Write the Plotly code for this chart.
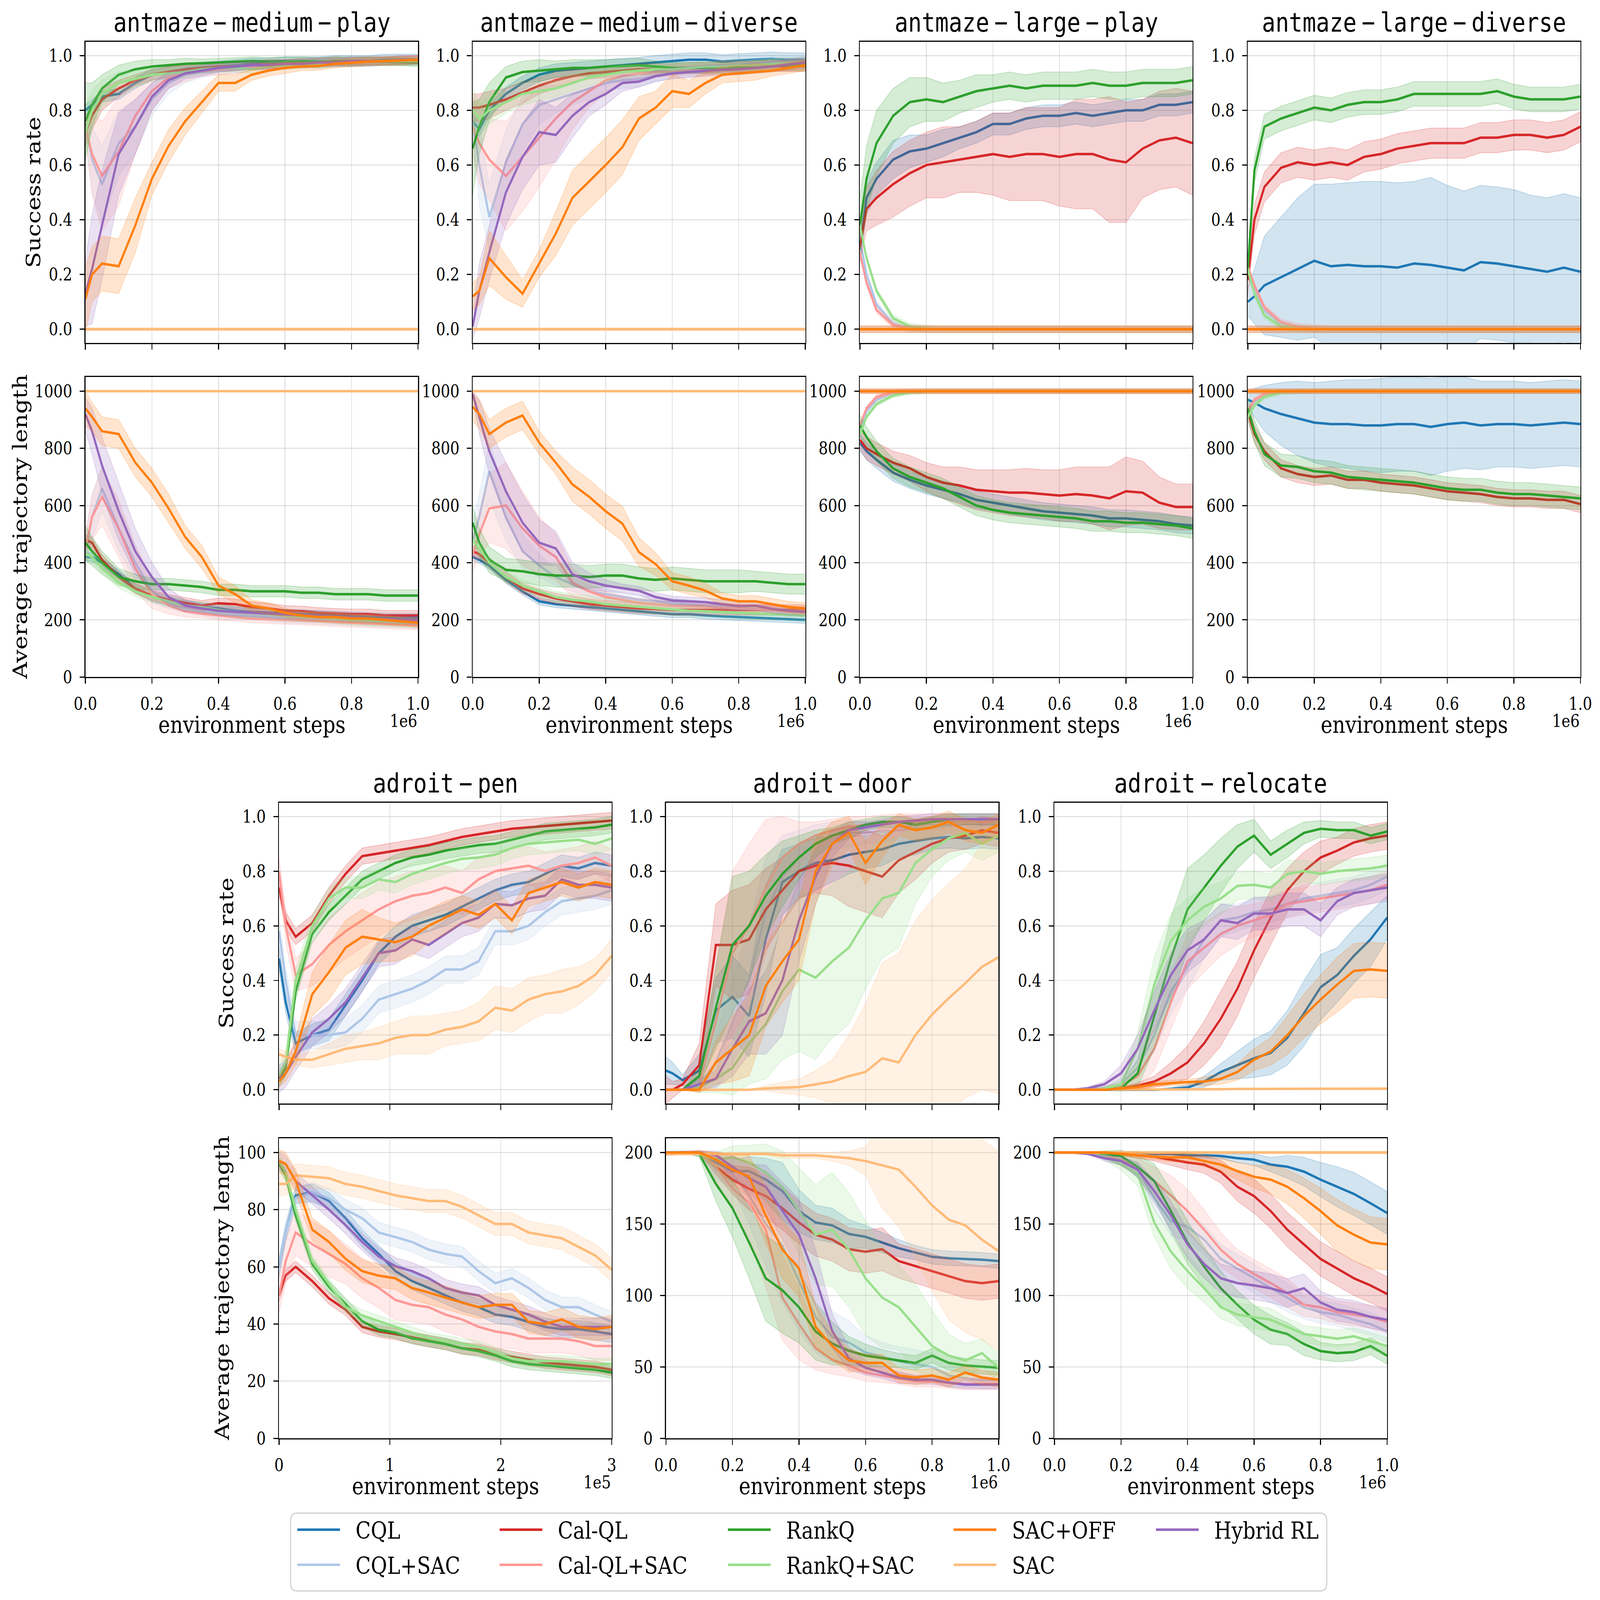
"""Offline-to-online RL: success rate and average trajectory length on antmaze / adroit.

Writes out.html with a 4x2 grid (antmaze) above a 3x2 grid (adroit) and a shared legend.
"""

import plotly.graph_objects as go

W, H = 4983, 4237

METHODS = ["CQL", "CQL+SAC", "Cal-QL", "Cal-QL+SAC", "RankQ", "RankQ+SAC",
           "Hybrid RL", "SAC", "SAC+OFF"]
COLORS = {
    "CQL": "#1f77b4", "CQL+SAC": "#aec7e8", "Cal-QL": "#d62728",
    "Cal-QL+SAC": "#ff9896", "RankQ": "#2ca02c", "RankQ+SAC": "#98df8a",
    "SAC+OFF": "#ff7f0e", "SAC": "#ffbb78", "Hybrid RL": "#9467bd",
}
LEGEND_COLS = [["CQL", "CQL+SAC"], ["Cal-QL", "Cal-QL+SAC"], ["RankQ", "RankQ+SAC"],
               ["SAC+OFF", "SAC"], ["Hybrid RL"]]

# fraction of the run (x 1e6 steps for antmaze/door/relocate, x 3e5 for pen)
FRAC = [0, 0.02, 0.05, 0.1, 0.15, 0.2, 0.25, 0.3, 0.35, 0.4, 0.45,
        0.5, 0.55, 0.6, 0.65, 0.7, 0.75, 0.8, 0.85, 0.9, 0.95, 1.0]

ZERO = [0, 0, 0, 0, 0, 0, 0, 0, 0, 0, 0,
        0, 0, 0, 0, 0, 0, 0, 0, 0, 0, 0]
K1000 = [1000, 1000, 1000, 1000, 1000, 1000, 1000, 1000, 1000, 1000, 1000,
         1000, 1000, 1000, 1000, 1000, 1000, 1000, 1000, 1000, 1000, 1000]
K200 = [200, 200, 200, 200, 200, 200, 200, 200, 200, 200, 200,
        200, 200, 200, 200, 200, 200, 200, 200, 200, 200, 200]

# ---------------- antmaze-medium-play ----------------
AMP_SR = {
    "CQL": [0.80, 0.82, 0.85, 0.86, 0.90, 0.93, 0.94, 0.95, 0.955, 0.96, 0.965,
            0.97, 0.97, 0.975, 0.975, 0.975, 0.98, 0.98, 0.98, 0.985, 0.985, 0.985],
    "CQL+SAC": [0.75, 0.62, 0.53, 0.68, 0.74, 0.84, 0.90, 0.93, 0.94, 0.95, 0.955,
                0.96, 0.965, 0.965, 0.97, 0.97, 0.975, 0.975, 0.98, 0.98, 0.98, 0.985],
    "Cal-QL": [0.72, 0.78, 0.84, 0.88, 0.91, 0.93, 0.94, 0.95, 0.955, 0.96, 0.96,
               0.965, 0.97, 0.97, 0.975, 0.975, 0.98, 0.975, 0.98, 0.98, 0.98, 0.985],
    "Cal-QL+SAC": [0.74, 0.64, 0.56, 0.65, 0.78, 0.87, 0.92, 0.935, 0.945, 0.95, 0.955,
                   0.96, 0.965, 0.97, 0.97, 0.975, 0.975, 0.98, 0.98, 0.98, 0.985, 0.985],
    "RankQ": [0.76, 0.82, 0.88, 0.93, 0.95, 0.96, 0.965, 0.97, 0.972, 0.975, 0.978,
              0.98, 0.978, 0.98, 0.98, 0.978, 0.98, 0.98, 0.98, 0.978, 0.978, 0.975],
    "RankQ+SAC": [0.72, 0.80, 0.86, 0.90, 0.915, 0.93, 0.935, 0.94, 0.95, 0.955, 0.955,
                  0.95, 0.96, 0.965, 0.97, 0.97, 0.975, 0.975, 0.98, 0.98, 0.98, 0.98],
    "Hybrid RL": [0.13, 0.22, 0.38, 0.64, 0.74, 0.85, 0.91, 0.935, 0.945, 0.955, 0.96,
                  0.965, 0.965, 0.97, 0.97, 0.975, 0.975, 0.98, 0.98, 0.98, 0.985, 0.985],
    "SAC": ZERO,
    "SAC+OFF": [0.11, 0.20, 0.24, 0.23, 0.38, 0.55, 0.67, 0.76, 0.83, 0.90, 0.90,
                0.93, 0.945, 0.955, 0.96, 0.962, 0.97, 0.975, 0.978, 0.98, 0.982, 0.985],
}
AMP_SR_SD = {
    "CQL": 0.02,
    "CQL+SAC": [0.04, 0.12, 0.14, 0.12, 0.10, 0.06, 0.04, 0.03, 0.02, 0.02, 0.02,
                0.015, 0.015, 0.015, 0.015, 0.015, 0.015, 0.015, 0.015, 0.015, 0.015, 0.015],
    "Cal-QL": [0.05, 0.05, 0.04, 0.03, 0.02, 0.02, 0.02, 0.015, 0.015, 0.015, 0.015,
               0.015, 0.015, 0.015, 0.015, 0.015, 0.015, 0.015, 0.015, 0.015, 0.015, 0.015],
    "Cal-QL+SAC": [0.05, 0.15, 0.20, 0.20, 0.14, 0.07, 0.04, 0.03, 0.02, 0.02, 0.02,
                   0.015, 0.015, 0.015, 0.015, 0.015, 0.015, 0.015, 0.015, 0.015, 0.015, 0.015],
    "RankQ": [0.14, 0.08, 0.05, 0.035, 0.03, 0.025, 0.02, 0.02, 0.015, 0.015, 0.015,
              0.015, 0.015, 0.015, 0.015, 0.015, 0.015, 0.015, 0.015, 0.015, 0.015, 0.015],
    "RankQ+SAC": [0.10, 0.07, 0.05, 0.04, 0.03, 0.025, 0.02, 0.02, 0.015, 0.015, 0.015,
                  0.015, 0.015, 0.015, 0.015, 0.015, 0.015, 0.015, 0.015, 0.015, 0.015, 0.015],
    "Hybrid RL": [0.12, 0.20, 0.20, 0.15, 0.10, 0.05, 0.03, 0.02, 0.02, 0.015, 0.015,
                  0.015, 0.015, 0.015, 0.015, 0.015, 0.015, 0.015, 0.015, 0.015, 0.015, 0.015],
    "SAC": 0.005,
    "SAC+OFF": [0.12, 0.10, 0.10, 0.10, 0.10, 0.06, 0.06, 0.05, 0.04, 0.03, 0.03,
                0.02, 0.02, 0.02, 0.015, 0.015, 0.015, 0.015, 0.015, 0.015, 0.015, 0.015],
}
AMP_LEN = {
    "CQL": [420, 420, 400, 360, 310, 280, 265, 255, 245, 240, 232,
            228, 225, 222, 220, 218, 215, 212, 210, 208, 207, 207],
    "CQL+SAC": [430, 560, 660, 520, 400, 300, 260, 240, 230, 220, 218,
                215, 210, 205, 203, 200, 198, 195, 193, 190, 188, 185],
    "Cal-QL": [480, 470, 410, 350, 310, 285, 270, 260, 250, 258, 255,
               245, 240, 232, 230, 225, 222, 220, 220, 215, 215, 215],
    "Cal-QL+SAC": [450, 560, 630, 520, 380, 290, 250, 230, 222, 215, 210,
                   205, 203, 200, 198, 195, 192, 190, 188, 185, 182, 180],
    "RankQ": [470, 440, 400, 350, 335, 325, 325, 320, 315, 305, 305,
              300, 300, 300, 295, 295, 290, 290, 290, 285, 285, 285],
    "RankQ+SAC": [430, 420, 380, 330, 300, 280, 265, 250, 245, 235, 228,
                  225, 220, 215, 212, 210, 205, 200, 198, 195, 192, 190],
    "Hybrid RL": [920, 860, 740, 580, 440, 350, 280, 250, 240, 232, 228,
                  225, 222, 218, 215, 212, 210, 207, 205, 202, 200, 198],
    "SAC": K1000,
    "SAC+OFF": [940, 910, 860, 850, 750, 680, 590, 490, 420, 320, 290,
                250, 240, 225, 215, 210, 210, 205, 205, 200, 195, 190],
}
AMP_LEN_SD = {
    "CQL": 15,
    "CQL+SAC": [50, 80, 80, 80, 60, 40, 20, 15, 15, 15, 15,
                15, 15, 15, 15, 15, 15, 15, 15, 15, 15, 15],
    "Cal-QL": 18,
    "Cal-QL+SAC": [50, 80, 100, 100, 80, 50, 30, 20, 15, 15, 15,
                   15, 15, 15, 15, 15, 15, 15, 15, 15, 15, 15],
    "RankQ": [60, 50, 40, 30, 25, 20, 20, 20, 20, 20, 20,
              20, 20, 20, 20, 20, 20, 20, 20, 20, 20, 20],
    "RankQ+SAC": 18,
    "Hybrid RL": [60, 80, 100, 100, 80, 50, 30, 20, 15, 15, 15,
                  15, 15, 15, 15, 15, 15, 15, 15, 15, 15, 15],
    "SAC": 3,
    "SAC+OFF": [60, 50, 50, 50, 50, 50, 50, 40, 40, 30, 30,
                20, 20, 15, 15, 15, 15, 15, 15, 15, 15, 15],
}

# ---------------- antmaze-medium-diverse ----------------
AMD_SR = {
    "CQL": [0.76, 0.73, 0.80, 0.86, 0.90, 0.93, 0.945, 0.95, 0.955, 0.96, 0.965,
            0.968, 0.975, 0.98, 0.985, 0.985, 0.978, 0.982, 0.985, 0.988, 0.985, 0.985],
    "CQL+SAC": [0.76, 0.60, 0.41, 0.61, 0.75, 0.82, 0.84, 0.86, 0.88, 0.90, 0.91,
                0.915, 0.925, 0.935, 0.94, 0.945, 0.955, 0.965, 0.97, 0.975, 0.978, 0.98],
    "Cal-QL": [0.81, 0.81, 0.82, 0.84, 0.865, 0.89, 0.91, 0.925, 0.935, 0.94, 0.945,
               0.95, 0.95, 0.95, 0.955, 0.955, 0.96, 0.96, 0.96, 0.962, 0.962, 0.962],
    "Cal-QL+SAC": [0.74, 0.68, 0.62, 0.56, 0.63, 0.70, 0.77, 0.83, 0.87, 0.91, 0.925,
                   0.935, 0.94, 0.945, 0.948, 0.95, 0.952, 0.955, 0.96, 0.965, 0.968, 0.97],
    "RankQ": [0.66, 0.74, 0.83, 0.92, 0.94, 0.945, 0.95, 0.955, 0.955, 0.96, 0.962,
              0.965, 0.96, 0.955, 0.955, 0.955, 0.955, 0.955, 0.96, 0.965, 0.965, 0.965],
    "RankQ+SAC": [0.80, 0.77, 0.80, 0.83, 0.86, 0.87, 0.88, 0.90, 0.92, 0.93, 0.94,
                  0.945, 0.95, 0.95, 0.955, 0.96, 0.96, 0.965, 0.965, 0.97, 0.972, 0.975],
    "Hybrid RL": [0.01, 0.14, 0.28, 0.50, 0.63, 0.72, 0.71, 0.78, 0.83, 0.86, 0.90,
                  0.905, 0.925, 0.935, 0.94, 0.945, 0.948, 0.95, 0.955, 0.96, 0.968, 0.975],
    "SAC": ZERO,
    "SAC+OFF": [0.12, 0.14, 0.26, 0.19, 0.13, 0.24, 0.35, 0.48, 0.54, 0.60, 0.665,
                0.77, 0.81, 0.87, 0.86, 0.90, 0.93, 0.935, 0.94, 0.945, 0.955, 0.965],
}
AMD_SR_SD = {
    "CQL": 0.025,
    "CQL+SAC": [0.05, 0.15, 0.12, 0.12, 0.10, 0.07, 0.05, 0.04, 0.04, 0.03, 0.03,
                0.03, 0.02, 0.02, 0.02, 0.02, 0.015, 0.015, 0.015, 0.015, 0.015, 0.015],
    "Cal-QL": [0.05, 0.05, 0.05, 0.04, 0.04, 0.03, 0.03, 0.025, 0.02, 0.02, 0.02,
               0.02, 0.02, 0.02, 0.02, 0.02, 0.02, 0.02, 0.02, 0.02, 0.02, 0.02],
    "Cal-QL+SAC": [0.10, 0.15, 0.15, 0.20, 0.20, 0.18, 0.15, 0.10, 0.06, 0.04, 0.03,
                   0.03, 0.02, 0.02, 0.02, 0.02, 0.02, 0.02, 0.02, 0.02, 0.02, 0.02],
    "RankQ": [0.17, 0.10, 0.07, 0.04, 0.04, 0.04, 0.03, 0.03, 0.03, 0.025, 0.025,
              0.025, 0.02, 0.02, 0.02, 0.02, 0.02, 0.02, 0.02, 0.02, 0.02, 0.02],
    "RankQ+SAC": [0.08, 0.06, 0.05, 0.04, 0.04, 0.035, 0.03, 0.03, 0.03, 0.025, 0.025,
                  0.02, 0.02, 0.02, 0.02, 0.02, 0.02, 0.02, 0.02, 0.02, 0.02, 0.02],
    "Hybrid RL": [0.05, 0.10, 0.10, 0.12, 0.12, 0.12, 0.10, 0.08, 0.05, 0.04, 0.03,
                  0.02, 0.02, 0.02, 0.02, 0.02, 0.02, 0.02, 0.02, 0.02, 0.02, 0.02],
    "SAC": 0.005,
    "SAC+OFF": [0.05, 0.05, 0.10, 0.08, 0.05, 0.05, 0.08, 0.10, 0.10, 0.10, 0.10,
                0.08, 0.06, 0.06, 0.05, 0.04, 0.03, 0.03, 0.03, 0.02, 0.02, 0.02],
}
AMD_LEN = {
    "CQL": [420, 410, 390, 340, 300, 265, 255, 250, 245, 240, 235,
            230, 225, 220, 220, 215, 212, 210, 207, 205, 202, 200],
    "CQL+SAC": [480, 560, 720, 560, 440, 390, 350, 325, 300, 290, 280,
                270, 265, 260, 255, 250, 245, 240, 238, 235, 232, 230],
    "Cal-QL": [440, 430, 400, 350, 310, 290, 275, 265, 255, 250, 245,
               240, 238, 235, 235, 235, 235, 235, 235, 235, 235, 235],
    "Cal-QL+SAC": [430, 500, 590, 600, 520, 460, 420, 330, 300, 280, 270,
                   260, 255, 250, 248, 245, 243, 240, 238, 235, 232, 230],
    "RankQ": [540, 470, 410, 375, 370, 360, 355, 355, 350, 355, 355,
              345, 340, 345, 340, 335, 335, 335, 335, 330, 325, 325],
    "RankQ+SAC": [480, 450, 400, 350, 320, 300, 280, 270, 265, 255, 250,
                  245, 240, 235, 232, 230, 228, 225, 222, 220, 218, 215],
    "Hybrid RL": [990, 910, 790, 650, 540, 470, 450, 360, 335, 320, 310,
                  302, 280, 268, 265, 262, 255, 248, 250, 238, 232, 228],
    "SAC": K1000,
    "SAC+OFF": [945, 920, 850, 890, 915, 820, 750, 674, 631, 580, 537,
                437, 395, 335, 320, 302, 275, 265, 265, 255, 245, 240],
}
AMD_LEN_SD = {
    "CQL": 12,
    "CQL+SAC": [60, 80, 100, 80, 60, 40, 30, 25, 20, 20, 15,
                15, 15, 15, 15, 15, 15, 15, 15, 15, 15, 15],
    "Cal-QL": 18,
    "Cal-QL+SAC": [60, 80, 120, 150, 130, 100, 80, 50, 30, 20, 15,
                   15, 15, 15, 15, 15, 15, 15, 15, 15, 15, 15],
    "RankQ": [60, 50, 45, 40, 40, 40, 40, 40, 40, 40, 40,
              40, 40, 40, 40, 40, 40, 40, 35, 35, 35, 35],
    "RankQ+SAC": 20,
    "Hybrid RL": [10, 60, 80, 100, 100, 80, 60, 40, 30, 20, 15,
                  15, 15, 15, 15, 15, 15, 15, 15, 15, 15, 15],
    "SAC": 3,
    "SAC+OFF": [50, 50, 50, 50, 50, 40, 40, 60, 60, 60, 60,
                50, 40, 30, 30, 25, 20, 20, 20, 20, 20, 20],
}

# ---------------- antmaze-large-play ----------------
ALP_SR = {
    "CQL": [0.29, 0.48, 0.55, 0.62, 0.65, 0.66, 0.68, 0.70, 0.72, 0.75, 0.75,
            0.77, 0.78, 0.78, 0.79, 0.78, 0.79, 0.80, 0.80, 0.82, 0.82, 0.83],
    "CQL+SAC": [0.33, 0.20, 0.09, 0.02, 0.005, 0.001, 0, 0, 0, 0, 0,
                0, 0, 0, 0, 0, 0, 0, 0, 0, 0, 0],
    "Cal-QL": [0.30, 0.44, 0.48, 0.53, 0.57, 0.60, 0.61, 0.62, 0.63, 0.64, 0.63,
               0.64, 0.64, 0.63, 0.64, 0.64, 0.62, 0.61, 0.66, 0.69, 0.70, 0.68],
    "Cal-QL+SAC": [0.28, 0.17, 0.07, 0.015, 0.003, 0, 0, 0, 0, 0, 0,
                   0, 0, 0, 0, 0, 0, 0, 0, 0, 0, 0],
    "RankQ": [0.38, 0.55, 0.68, 0.78, 0.83, 0.84, 0.83, 0.85, 0.87, 0.88, 0.89,
              0.88, 0.89, 0.89, 0.89, 0.90, 0.89, 0.89, 0.90, 0.90, 0.90, 0.91],
    "RankQ+SAC": [0.38, 0.26, 0.14, 0.04, 0.01, 0.003, 0, 0, 0, 0, 0,
                  0, 0, 0, 0, 0, 0, 0, 0, 0, 0, 0],
    "Hybrid RL": ZERO,
    "SAC": ZERO,
    "SAC+OFF": ZERO,
}
ALP_SR_SD = {
    "CQL": [0.05, 0.06, 0.06, 0.07, 0.06, 0.05, 0.05, 0.04, 0.04, 0.04, 0.04,
            0.04, 0.04, 0.04, 0.04, 0.04, 0.04, 0.04, 0.04, 0.04, 0.04, 0.04],
    "Cal-QL": [0.05, 0.08, 0.10, 0.12, 0.12, 0.12, 0.13, 0.12, 0.13, 0.15, 0.16,
               0.17, 0.17, 0.18, 0.20, 0.20, 0.23, 0.22, 0.18, 0.18, 0.18, 0.19],
    "RankQ": [0.10, 0.12, 0.12, 0.10, 0.09, 0.08, 0.07, 0.06, 0.06, 0.05, 0.05,
              0.05, 0.05, 0.05, 0.05, 0.05, 0.05, 0.05, 0.05, 0.05, 0.05, 0.05],
}
ALP_LEN = {
    "CQL": [820, 790, 760, 715, 690, 670, 655, 640, 620, 610, 600,
            590, 580, 575, 570, 565, 555, 555, 550, 545, 535, 530],
    "CQL+SAC": [860, 930, 970, 995, 999, 1000, 1000, 1000, 1000, 1000, 1000,
                1000, 1000, 1000, 1000, 1000, 1000, 1000, 1000, 1000, 1000, 1000],
    "Cal-QL": [830, 800, 780, 750, 730, 700, 680, 670, 655, 650, 645,
               645, 640, 635, 640, 635, 625, 650, 645, 610, 595, 595],
    "Cal-QL+SAC": [880, 940, 980, 997, 1000, 1000, 1000, 1000, 1000, 1000, 1000,
                   1000, 1000, 1000, 1000, 1000, 1000, 1000, 1000, 1000, 1000, 1000],
    "RankQ": [880, 840, 790, 730, 700, 680, 660, 630, 600, 585, 575,
              570, 565, 560, 555, 545, 545, 540, 540, 535, 530, 520],
    "RankQ+SAC": [850, 910, 955, 985, 995, 999, 1000, 1000, 1000, 1000, 1000,
                  1000, 1000, 1000, 1000, 1000, 1000, 1000, 1000, 1000, 1000, 1000],
    "Hybrid RL": K1000,
    "SAC": K1000,
    "SAC+OFF": K1000,
}
ALP_LEN_SD = {
    "CQL": 30,
    "Cal-QL": [30, 40, 40, 40, 45, 50, 55, 65, 70, 75, 80,
               85, 85, 90, 95, 100, 110, 120, 110, 90, 80, 80],
    "RankQ": 35,
}

# ---------------- antmaze-large-diverse ----------------
ALD_SR = {
    "CQL": [0.10, 0.12, 0.16, 0.19, 0.22, 0.25, 0.23, 0.235, 0.23, 0.23, 0.225,
            0.24, 0.235, 0.225, 0.215, 0.245, 0.24, 0.23, 0.22, 0.21, 0.225, 0.21],
    "CQL+SAC": [0.20, 0.14, 0.07, 0.02, 0.005, 0, 0, 0, 0, 0, 0,
                0, 0, 0, 0, 0, 0, 0, 0, 0, 0, 0],
    "Cal-QL": [0.18, 0.40, 0.52, 0.59, 0.61, 0.60, 0.61, 0.60, 0.63, 0.64, 0.66,
               0.67, 0.68, 0.68, 0.68, 0.70, 0.70, 0.71, 0.71, 0.70, 0.71, 0.74],
    "Cal-QL+SAC": [0.23, 0.16, 0.08, 0.025, 0.01, 0.003, 0, 0, 0, 0, 0,
                   0, 0, 0, 0, 0, 0, 0, 0, 0, 0, 0],
    "RankQ": [0.22, 0.58, 0.74, 0.77, 0.79, 0.81, 0.80, 0.82, 0.83, 0.83, 0.84,
              0.86, 0.86, 0.86, 0.86, 0.86, 0.87, 0.85, 0.84, 0.84, 0.84, 0.85],
    "RankQ+SAC": [0.22, 0.13, 0.05, 0.01, 0.002, 0, 0, 0, 0, 0, 0,
                  0, 0, 0, 0, 0, 0, 0, 0, 0, 0, 0],
    "Hybrid RL": ZERO,
    "SAC": ZERO,
    "SAC+OFF": ZERO,
}
ALD_SR_SD = {
    "CQL": [0.05, 0.10, 0.18, 0.22, 0.26, 0.28, 0.30, 0.30, 0.31, 0.31, 0.31,
            0.30, 0.32, 0.30, 0.29, 0.28, 0.28, 0.28, 0.27, 0.27, 0.27, 0.27],
    "Cal-QL": 0.055,
    "RankQ": 0.045,
}
ALD_LEN = {
    "CQL": [970, 960, 940, 920, 905, 890, 885, 885, 880, 880, 885,
            885, 875, 885, 890, 880, 885, 885, 880, 885, 890, 885],
    "CQL+SAC": [920, 960, 985, 998, 1000, 1000, 1000, 1000, 1000, 1000, 1000,
                1000, 1000, 1000, 1000, 1000, 1000, 1000, 1000, 1000, 1000, 1000],
    "Cal-QL": [930, 850, 790, 730, 710, 700, 705, 690, 690, 680, 675,
               670, 660, 650, 645, 640, 630, 625, 625, 620, 620, 605],
    "Cal-QL+SAC": [930, 970, 990, 999, 1000, 1000, 1000, 1000, 1000, 1000, 1000,
                   1000, 1000, 1000, 1000, 1000, 1000, 1000, 1000, 1000, 1000, 1000],
    "RankQ": [940, 860, 780, 740, 735, 720, 715, 700, 695, 690, 685,
              680, 670, 660, 655, 655, 645, 640, 640, 635, 630, 625],
    "RankQ+SAC": [910, 950, 980, 995, 999, 1000, 1000, 1000, 1000, 1000, 1000,
                  1000, 1000, 1000, 1000, 1000, 1000, 1000, 1000, 1000, 1000, 1000],
    "Hybrid RL": K1000,
    "SAC": K1000,
    "SAC+OFF": K1000,
}
ALD_LEN_SD = {
    "CQL": [30, 50, 80, 110, 130, 140, 150, 155, 160, 165, 165,
            165, 170, 165, 160, 155, 150, 150, 150, 150, 150, 150],
    "Cal-QL": 30,
    "RankQ": 40,
}

# ---------------- adroit-pen (x in units of 1e5, run is 3e5) ----------------
PEN_SR = {
    "CQL": [0.48, 0.32, 0.17, 0.20, 0.22, 0.31, 0.40, 0.50, 0.56, 0.60, 0.62,
            0.64, 0.67, 0.70, 0.73, 0.75, 0.76, 0.79, 0.82, 0.81, 0.83, 0.82],
    "CQL+SAC": [0.58, 0.40, 0.20, 0.20, 0.20, 0.21, 0.26, 0.33, 0.35, 0.37, 0.40,
                0.44, 0.44, 0.47, 0.58, 0.58, 0.60, 0.65, 0.69, 0.70, 0.71, 0.73],
    "Cal-QL": [0.74, 0.62, 0.56, 0.61, 0.71, 0.79, 0.855, 0.865, 0.875, 0.885, 0.895,
               0.91, 0.925, 0.935, 0.945, 0.955, 0.96, 0.965, 0.97, 0.975, 0.98, 0.985],
    "Cal-QL+SAC": [0.80, 0.60, 0.42, 0.46, 0.53, 0.58, 0.62, 0.66, 0.69, 0.71, 0.72,
                   0.74, 0.72, 0.77, 0.80, 0.81, 0.82, 0.80, 0.82, 0.83, 0.85, 0.82],
    "RankQ": [0.04, 0.08, 0.36, 0.57, 0.65, 0.71, 0.77, 0.80, 0.83, 0.85, 0.86,
              0.875, 0.885, 0.895, 0.90, 0.915, 0.93, 0.945, 0.95, 0.955, 0.96, 0.97],
    "RankQ+SAC": [0.05, 0.10, 0.40, 0.60, 0.70, 0.74, 0.74, 0.77, 0.76, 0.79, 0.81,
                  0.83, 0.845, 0.85, 0.86, 0.885, 0.90, 0.905, 0.91, 0.915, 0.90, 0.92],
    "Hybrid RL": [0.04, 0.06, 0.12, 0.21, 0.26, 0.32, 0.41, 0.50, 0.51, 0.55, 0.53,
                  0.57, 0.61, 0.63, 0.68, 0.675, 0.70, 0.71, 0.77, 0.75, 0.75, 0.74],
    "SAC": [0.13, 0.12, 0.11, 0.11, 0.13, 0.15, 0.16, 0.17, 0.19, 0.20, 0.20,
            0.22, 0.23, 0.25, 0.30, 0.29, 0.33, 0.35, 0.36, 0.38, 0.42, 0.49],
    "SAC+OFF": [0.03, 0.06, 0.14, 0.35, 0.43, 0.52, 0.56, 0.55, 0.54, 0.56, 0.60,
                0.63, 0.66, 0.64, 0.68, 0.62, 0.72, 0.74, 0.76, 0.74, 0.76, 0.75],
}
PEN_SR_SD = {
    "CQL": 0.04, "CQL+SAC": 0.05, "Cal-QL": 0.03, "RankQ": 0.03,
    "RankQ+SAC": 0.04, "Hybrid RL": 0.05,
    "Cal-QL+SAC": [0.05, 0.06, 0.06, 0.08, 0.10, 0.10, 0.10, 0.10, 0.09, 0.09, 0.08,
                   0.08, 0.08, 0.08, 0.07, 0.07, 0.07, 0.07, 0.06, 0.06, 0.06, 0.06],
    "SAC": [0.02, 0.02, 0.02, 0.03, 0.04, 0.05, 0.05, 0.06, 0.06, 0.07, 0.07,
            0.06, 0.06, 0.07, 0.08, 0.08, 0.08, 0.07, 0.08, 0.07, 0.06, 0.06],
    "SAC+OFF": [0.02, 0.03, 0.05, 0.08, 0.10, 0.10, 0.10, 0.08, 0.07, 0.07, 0.06,
                0.06, 0.05, 0.05, 0.05, 0.05, 0.05, 0.05, 0.05, 0.05, 0.05, 0.05],
}
PEN_LEN = {
    "CQL": [60, 72, 85, 86, 83, 77, 70, 64.5, 58.5, 55, 52.6,
            50, 47.5, 45.9, 43.3, 42.5, 40.8, 39, 38.2, 38.2, 37.4, 36.5],
    "CQL+SAC": [60, 72, 84, 86, 84, 80, 77, 72, 70.4, 68.7, 66,
                64.5, 63.6, 58.5, 54.3, 56, 52.6, 48.4, 45.9, 45.9, 43.3, 40.8],
    "Cal-QL": [50, 57, 60, 55, 49, 45, 39, 37.4, 36.5, 35.3, 34,
               33, 31.5, 31, 29.5, 28.5, 27.5, 26.5, 26, 25.5, 25, 24],
    "Cal-QL+SAC": [50, 62, 72, 67.9, 64.5, 61, 56, 52.6, 48.4, 46.7, 45.9,
                   43.3, 41.6, 39, 37.4, 36.5, 34.9, 34.9, 34.9, 34, 32.3, 32.3],
    "RankQ": [96, 92, 78, 61, 53, 47, 41, 38, 37, 35, 34,
              33, 31.5, 30.5, 29, 27, 26, 25.5, 25, 24.5, 24, 23],
    "RankQ+SAC": [97, 93, 80, 62, 54, 46, 43, 41, 39, 37, 35,
                  34, 33, 32, 30, 28, 27, 27, 27, 26.5, 26, 26],
    "Hybrid RL": [97, 96, 90, 85, 80, 74.6, 68.7, 63.6, 60.2, 58.5, 56,
                  52.6, 51, 50, 46.7, 45, 43.3, 40.8, 39, 39, 39, 39],
    "SAC": [89, 89, 92, 91.5, 91, 89, 88, 86.5, 85, 84, 83,
            83, 81, 78, 75, 75, 72, 71, 70, 67, 64, 59],
    "SAC+OFF": [97, 96, 90, 73, 68.7, 62.8, 58.5, 56.9, 56, 52.6, 51,
                49.2, 47.5, 45.9, 46.7, 46.7, 40.8, 40, 41.6, 39, 38.2, 39],
}
PEN_LEN_SD = {
    "CQL": 3, "CQL+SAC": 3.5, "Cal-QL": 2, "RankQ": 2, "RankQ+SAC": 2,
    "Hybrid RL": 3, "SAC": 4, "SAC+OFF": 4,
    "Cal-QL+SAC": [6, 8, 8, 8, 8, 7, 7, 7, 7, 6, 6,
                   6, 6, 6, 6, 5, 5, 5, 5, 5, 5, 5],
}

# ---------------- adroit-door ----------------
DOOR_SR = {
    "CQL": [0.07, 0.06, 0.035, 0.07, 0.29, 0.34, 0.27, 0.55, 0.76, 0.80, 0.83,
            0.84, 0.86, 0.87, 0.88, 0.90, 0.91, 0.92, 0.925, 0.92, 0.925, 0.92],
    "CQL+SAC": [0, 0, 0, 0.02, 0.10, 0.25, 0.40, 0.65, 0.78, 0.85, 0.90,
                0.93, 0.94, 0.94, 0.945, 0.95, 0.955, 0.96, 0.965, 0.97, 0.97, 0.97],
    "Cal-QL": [0, 0, 0.02, 0.09, 0.53, 0.53, 0.55, 0.66, 0.73, 0.80, 0.82,
               0.83, 0.82, 0.80, 0.78, 0.84, 0.87, 0.90, 0.92, 0.93, 0.95, 0.94],
    "Cal-QL+SAC": [0, 0, 0, 0.02, 0.25, 0.50, 0.60, 0.74, 0.85, 0.90, 0.93,
                   0.95, 0.96, 0.97, 0.975, 0.98, 0.98, 0.98, 0.98, 0.98, 0.98, 0.98],
    "RankQ": [0, 0, 0, 0.05, 0.30, 0.53, 0.60, 0.71, 0.79, 0.85, 0.90,
              0.93, 0.95, 0.97, 0.98, 0.98, 0.97, 0.98, 0.99, 0.99, 0.99, 0.99],
    "RankQ+SAC": [0, 0, 0, 0.01, 0.04, 0.08, 0.17, 0.24, 0.36, 0.44, 0.41,
                  0.47, 0.52, 0.62, 0.70, 0.72, 0.83, 0.88, 0.92, 0.94, 0.90, 0.93],
    "Hybrid RL": [0, 0, 0, 0.02, 0.04, 0.15, 0.25, 0.28, 0.40, 0.62, 0.78,
                  0.90, 0.95, 0.96, 0.97, 0.98, 0.985, 0.99, 0.99, 0.99, 0.99, 0.99],
    "SAC": [0, 0, 0, 0, 0, 0, 0, 0.005, 0.008, 0.01, 0.02,
            0.03, 0.05, 0.065, 0.115, 0.10, 0.20, 0.275, 0.335, 0.39, 0.45, 0.485],
    "SAC+OFF": [0, 0, 0, 0, 0.10, 0.15, 0.20, 0.38, 0.47, 0.55, 0.80,
                0.90, 0.94, 0.83, 0.91, 0.97, 0.95, 0.96, 0.98, 0.95, 0.94, 0.97],
}
DOOR_SR_SD = {
    "CQL": [0.05, 0.04, 0.02, 0.06, 0.12, 0.15, 0.15, 0.20, 0.12, 0.10, 0.10,
            0.08, 0.07, 0.06, 0.06, 0.05, 0.05, 0.04, 0.04, 0.04, 0.04, 0.04],
    "CQL+SAC": [0, 0, 0, 0.02, 0.10, 0.15, 0.20, 0.20, 0.15, 0.10, 0.07,
                0.05, 0.05, 0.04, 0.04, 0.04, 0.04, 0.04, 0.04, 0.04, 0.04, 0.04],
    "Cal-QL": [0.05, 0.03, 0.02, 0.08, 0.15, 0.20, 0.20, 0.15, 0.12, 0.10, 0.10,
               0.12, 0.15, 0.15, 0.15, 0.12, 0.10, 0.07, 0.05, 0.05, 0.05, 0.05],
    "Cal-QL+SAC": [0, 0, 0, 0.03, 0.20, 0.30, 0.30, 0.25, 0.15, 0.08, 0.05,
                   0.04, 0.04, 0.03, 0.03, 0.03, 0.03, 0.03, 0.03, 0.03, 0.03, 0.03],
    "RankQ": [0, 0, 0, 0.03, 0.15, 0.25, 0.20, 0.15, 0.12, 0.08, 0.05,
              0.03, 0.03, 0.02, 0.02, 0.02, 0.02, 0.02, 0.02, 0.02, 0.02, 0.02],
    "RankQ+SAC": [0, 0, 0, 0.02, 0.05, 0.10, 0.15, 0.20, 0.25, 0.30, 0.30,
                  0.28, 0.28, 0.25, 0.22, 0.20, 0.15, 0.10, 0.08, 0.07, 0.06, 0.06],
    "Hybrid RL": [0, 0, 0, 0.02, 0.03, 0.10, 0.12, 0.15, 0.20, 0.15, 0.10,
                  0.05, 0.03, 0.02, 0.02, 0.02, 0.02, 0.02, 0.02, 0.02, 0.02, 0.02],
    "SAC": [0, 0, 0, 0, 0, 0, 0, 0.01, 0.02, 0.03, 0.05,
            0.08, 0.15, 0.25, 0.35, 0.40, 0.42, 0.42, 0.42, 0.42, 0.45, 0.50],
    "SAC+OFF": [0, 0, 0, 0.01, 0.08, 0.12, 0.15, 0.15, 0.15, 0.15, 0.12,
                0.08, 0.06, 0.08, 0.06, 0.04, 0.04, 0.04, 0.04, 0.04, 0.04, 0.04],
}
DOOR_LEN = {
    "CQL": [200, 200, 200, 200, 193, 187, 187, 181, 173, 159, 151,
            149, 143, 141, 137, 133, 130, 127, 126, 125.6, 125, 124],
    "CQL+SAC": [200, 200, 200, 199, 190, 185, 170, 150, 135, 110, 85,
                71, 67, 60, 57, 54, 52, 50, 44, 42, 41, 41],
    "Cal-QL": [199, 199, 200, 200, 190, 181, 174.6, 169.5, 161, 151, 142.5,
               139, 132.3, 130.6, 132.3, 124, 120.5, 117, 113.7, 110, 108.6, 110],
    "Cal-QL+SAC": [200, 200, 200, 200, 190, 175, 165, 146, 98.5, 80, 63,
                   55, 51, 46, 44, 42, 40, 40, 39, 38, 38, 38],
    "RankQ": [200, 200, 200, 199, 178, 161, 137, 112, 103.6, 91.7, 74.8,
              66.3, 61.3, 57.9, 56.2, 54.5, 52.8, 57.9, 52.8, 51, 50, 49.4],
    "RankQ+SAC": [200, 200, 200, 199, 195, 196.6, 193, 186, 176, 159, 142.5,
                  146, 132, 112, 98.5, 91.7, 78, 64.6, 57.9, 54.5, 59.6, 49.4],
    "Hybrid RL": [200, 200, 200, 200, 198, 190, 182, 176, 159, 142.5, 112,
                  75, 56, 49.4, 46, 42.6, 41, 41, 39, 37.6, 37.6, 37.6],
    "SAC": [199, 199, 199, 199, 199, 199, 199, 199, 198, 198, 198,
            197, 196, 194, 191, 188, 176, 163, 153, 149, 139, 131],
    "SAC+OFF": [200, 200, 200, 200, 195, 188, 183, 156, 132, 119, 78,
                64.6, 54.5, 52.8, 52.8, 44, 42.6, 44, 41, 46, 42.6, 41],
}
DOOR_LEN_SD = {
    "CQL": [1, 1, 1, 1, 5, 8, 10, 15, 20, 15, 12,
            12, 10, 8, 7, 6, 5, 5, 5, 5, 5, 5],
    "CQL+SAC": [0, 0, 0, 2, 8, 10, 20, 30, 40, 35, 25,
                18, 15, 12, 10, 10, 10, 10, 8, 6, 6, 6],
    "Cal-QL": [1, 1, 1, 1, 5, 10, 15, 15, 15, 15, 15,
               15, 15, 15, 15, 12, 12, 12, 12, 12, 12, 12],
    "Cal-QL+SAC": [0, 0, 0, 2, 10, 15, 25, 40, 30, 25, 15,
                   10, 8, 6, 5, 4, 4, 4, 4, 4, 4, 4],
    "RankQ": [0, 0, 0, 2, 12, 20, 25, 30, 30, 25, 20,
              15, 10, 8, 6, 5, 5, 5, 5, 5, 5, 5],
    "RankQ+SAC": [0, 0, 0, 2, 5, 8, 12, 20, 25, 30, 35,
                  40, 40, 40, 35, 30, 30, 25, 15, 12, 10, 10],
    "Hybrid RL": [0, 0, 0, 1, 3, 8, 10, 15, 20, 25, 20,
                  12, 8, 5, 4, 4, 3, 3, 3, 3, 3, 3],
    "SAC": [1, 1, 1, 1, 1, 1, 1, 1, 2, 2, 2,
            3, 5, 10, 30, 40, 50, 60, 70, 75, 70, 70],
    "SAC+OFF": [0, 0, 0, 1, 5, 10, 15, 20, 20, 20, 15,
                10, 8, 6, 6, 5, 5, 5, 5, 5, 5, 5],
}

# ---------------- adroit-relocate ----------------
REL_SR = {
    "CQL": [0, 0, 0, 0, 0, 0, 0, 0, 0.003, 0.008, 0.03,
            0.065, 0.09, 0.115, 0.135, 0.19, 0.28, 0.375, 0.42, 0.49, 0.55, 0.63],
    "CQL+SAC": [0, 0, 0, 0, 0.005, 0.02, 0.08, 0.20, 0.36, 0.45, 0.55,
                0.62, 0.63, 0.65, 0.66, 0.68, 0.70, 0.71, 0.72, 0.73, 0.75, 0.78],
    "Cal-QL": [0, 0, 0, 0, 0, 0.005, 0.015, 0.03, 0.06, 0.10, 0.17,
               0.26, 0.37, 0.51, 0.63, 0.73, 0.80, 0.85, 0.875, 0.905, 0.92, 0.93],
    "Cal-QL+SAC": [0, 0, 0, 0, 0.005, 0.015, 0.05, 0.15, 0.32, 0.47, 0.52,
                   0.57, 0.60, 0.62, 0.64, 0.68, 0.69, 0.70, 0.71, 0.72, 0.73, 0.75],
    "RankQ": [0, 0, 0, 0, 0, 0.005, 0.06, 0.27, 0.48, 0.66, 0.74,
              0.82, 0.89, 0.93, 0.86, 0.90, 0.94, 0.955, 0.95, 0.95, 0.93, 0.945],
    "RankQ+SAC": [0, 0, 0, 0, 0.005, 0.02, 0.15, 0.385, 0.545, 0.62, 0.67,
                  0.70, 0.746, 0.75, 0.74, 0.79, 0.80, 0.79, 0.80, 0.805, 0.81, 0.82],
    "Hybrid RL": [0, 0, 0, 0.005, 0.02, 0.06, 0.15, 0.29, 0.42, 0.51, 0.55,
                  0.62, 0.61, 0.645, 0.645, 0.66, 0.66, 0.62, 0.69, 0.72, 0.73, 0.74],
    "SAC": [0, 0, 0, 0, 0, 0, 0, 0, 0, 0, 0.002,
            0.002, 0.003, 0.003, 0.003, 0.003, 0.004, 0.004, 0.005, 0.004, 0.004, 0.004],
    "SAC+OFF": [0, 0, 0, 0, 0, 0.005, 0.01, 0.02, 0.025, 0.028, 0.03,
                0.04, 0.065, 0.11, 0.14, 0.20, 0.27, 0.33, 0.385, 0.435, 0.44, 0.435],
}
REL_SR_SD = {
    "CQL": [0, 0, 0, 0, 0, 0, 0, 0, 0.005, 0.01, 0.02,
            0.03, 0.05, 0.07, 0.08, 0.10, 0.12, 0.12, 0.10, 0.10, 0.10, 0.08],
    "CQL+SAC": [0, 0, 0, 0, 0.005, 0.01, 0.03, 0.06, 0.08, 0.08, 0.07,
                0.06, 0.05, 0.05, 0.05, 0.05, 0.05, 0.05, 0.05, 0.05, 0.05, 0.05],
    "Cal-QL": [0, 0, 0, 0, 0, 0.005, 0.01, 0.02, 0.04, 0.06, 0.08,
               0.10, 0.10, 0.10, 0.10, 0.08, 0.07, 0.06, 0.05, 0.05, 0.05, 0.05],
    "Cal-QL+SAC": [0, 0, 0, 0, 0.005, 0.01, 0.04, 0.08, 0.10, 0.10, 0.09,
                   0.08, 0.07, 0.06, 0.06, 0.05, 0.05, 0.05, 0.05, 0.05, 0.05, 0.05],
    "RankQ": [0, 0, 0, 0, 0, 0.01, 0.05, 0.12, 0.15, 0.15, 0.12,
              0.10, 0.08, 0.06, 0.05, 0.05, 0.04, 0.03, 0.03, 0.03, 0.03, 0.03],
    "RankQ+SAC": [0, 0, 0, 0, 0.005, 0.02, 0.06, 0.10, 0.10, 0.08, 0.07,
                  0.06, 0.05, 0.05, 0.05, 0.05, 0.04, 0.04, 0.04, 0.04, 0.04, 0.04],
    "Hybrid RL": [0, 0, 0, 0.005, 0.01, 0.03, 0.05, 0.07, 0.08, 0.08, 0.07,
                  0.06, 0.06, 0.06, 0.06, 0.06, 0.06, 0.06, 0.05, 0.05, 0.05, 0.05],
    "SAC": 0.003,
    "SAC+OFF": [0, 0, 0, 0, 0, 0.005, 0.01, 0.01, 0.01, 0.01, 0.015,
                0.02, 0.03, 0.04, 0.05, 0.07, 0.08, 0.09, 0.10, 0.10, 0.10, 0.10],
}
REL_LEN = {
    "CQL": [200, 200, 200, 200, 200, 200, 200, 199, 199, 198, 198,
            197.5, 196, 195, 191.5, 190, 186.6, 181, 176, 171, 164.5, 157.7],
    "CQL+SAC": [200, 200, 200, 200, 197, 194, 188, 168, 152, 148, 139,
                125.5, 118.8, 112, 105, 98.5, 91.7, 88.3, 86.6, 83, 80, 74.8],
    "Cal-QL": [200, 200, 200, 200, 200, 199, 198, 197, 195, 193, 191.5,
               186.5, 176, 169.5, 159, 146, 135.7, 125.5, 118.8, 112, 107, 101],
    "Cal-QL+SAC": [200, 200, 200, 200, 198, 195, 190, 180, 170, 159, 146,
                   132, 122, 115, 108.6, 101.7, 93.4, 91.7, 88.3, 86.6, 85, 81.5],
    "RankQ": [200, 200, 200, 200, 199, 197.5, 190, 180, 159, 137, 120,
              105, 93.4, 83, 76, 73, 66, 61, 59.6, 60.4, 64.6, 57.9],
    "RankQ+SAC": [200, 200, 200, 200, 197, 191.5, 184.8, 151, 130.6, 117, 105,
                  91.7, 86.6, 85, 83, 78, 73, 71.4, 69.7, 71.4, 68, 64.6],
    "Hybrid RL": [200, 200, 200, 199, 196, 194, 188, 173, 156, 135.7, 122,
                  112, 108.6, 107, 105, 101.7, 105, 95, 90, 88.3, 85, 83],
    "SAC": K200,
    "SAC+OFF": [200, 200, 200, 200, 200, 199, 198, 197, 196.5, 196.6, 194,
                191.5, 187, 183, 181, 176, 168, 159, 149, 142.5, 137, 135.7],
}
REL_LEN_SD = {
    "CQL": [0, 0, 0, 0, 0, 0, 0, 1, 1, 1, 2,
            2, 3, 4, 5, 8, 10, 12, 14, 15, 15, 15],
    "CQL+SAC": [0, 0, 0, 0, 2, 3, 5, 8, 10, 10, 10,
                10, 10, 10, 10, 10, 8, 8, 8, 8, 8, 8],
    "Cal-QL": [0, 0, 0, 0, 0, 1, 2, 3, 4, 5, 6,
               8, 10, 12, 12, 12, 12, 12, 12, 12, 12, 12],
    "Cal-QL+SAC": [0, 0, 0, 0, 2, 4, 6, 10, 14, 15, 14,
                   12, 10, 10, 10, 10, 8, 8, 8, 8, 8, 8],
    "RankQ": [0, 0, 0, 0, 2, 4, 8, 12, 15, 15, 14,
              12, 10, 10, 10, 8, 8, 6, 6, 6, 6, 6],
    "RankQ+SAC": [0, 0, 0, 0, 2, 4, 8, 10, 12, 12, 10,
                  8, 8, 8, 8, 6, 6, 6, 6, 6, 6, 6],
    "Hybrid RL": [0, 0, 0, 0, 2, 3, 5, 8, 10, 10, 10,
                  10, 10, 10, 10, 10, 10, 8, 8, 8, 8, 8],
    "SAC": 1,
    "SAC+OFF": [0, 0, 0, 0, 0, 1, 2, 2, 3, 3, 4,
                5, 6, 8, 10, 12, 14, 16, 18, 18, 18, 18],
}

# y-axis setups: (range, tick values, tick labels, default band half-width)
Y_SR = ([-0.05, 1.05], [0, 0.2, 0.4, 0.6, 0.8, 1.0],
        ["0.0", "0.2", "0.4", "0.6", "0.8", "1.0"], 0.012)
Y_ANT = ([0, 1050], [0, 200, 400, 600, 800, 1000],
         ["0", "200", "400", "600", "800", "1000"], 8)
Y_PEN = ([0, 105], [0, 20, 40, 60, 80, 100], ["0", "20", "40", "60", "80", "100"], 1.5)
Y_ADR = ([0, 210], [0, 50, 100, 150, 200], ["0", "50", "100", "150", "200"], 2)
X_1M = (1.0, [0, 0.2, 0.4, 0.6, 0.8, 1.0], ["0.0", "0.2", "0.4", "0.6", "0.8", "1.0"], "1e6")
X_PEN = (3.0, [0, 1, 2, 3], ["0", "1", "2", "3"], "1e5")

# (title, means, bands, y-setup, x-setup, row, col)
PANELS = [
    ("antmaze-medium-play", AMP_SR, AMP_SR_SD, Y_SR, X_1M, 0, 0),
    ("antmaze-medium-diverse", AMD_SR, AMD_SR_SD, Y_SR, X_1M, 0, 1),
    ("antmaze-large-play", ALP_SR, ALP_SR_SD, Y_SR, X_1M, 0, 2),
    ("antmaze-large-diverse", ALD_SR, ALD_SR_SD, Y_SR, X_1M, 0, 3),
    (None, AMP_LEN, AMP_LEN_SD, Y_ANT, X_1M, 1, 0),
    (None, AMD_LEN, AMD_LEN_SD, Y_ANT, X_1M, 1, 1),
    (None, ALP_LEN, ALP_LEN_SD, Y_ANT, X_1M, 1, 2),
    (None, ALD_LEN, ALD_LEN_SD, Y_ANT, X_1M, 1, 3),
    ("adroit-pen", PEN_SR, PEN_SR_SD, Y_SR, X_PEN, 2, 0),
    ("adroit-door", DOOR_SR, DOOR_SR_SD, Y_SR, X_1M, 2, 1),
    ("adroit-relocate", REL_SR, REL_SR_SD, Y_SR, X_1M, 2, 2),
    (None, PEN_LEN, PEN_LEN_SD, Y_PEN, X_PEN, 3, 0),
    (None, DOOR_LEN, DOOR_LEN_SD, Y_ADR, X_1M, 3, 1),
    (None, REL_LEN, REL_LEN_SD, Y_ADR, X_1M, 3, 2),
]

# ---------------- geometry (pixels in the 4983 x 4237 canvas) ----------------
PANEL_W = 1036
COL_LEFT = {0: [266, 1472, 2678, 3886], 1: [266, 1472, 2678, 3886],
            2: [869, 2074, 3284], 3: [869, 2074, 3284]}
ROW_Y = [(111, 908), (998, 1793), (2126, 2922), (3014, 3809)]
YLABEL_X = {0: 104, 1: 62, 2: 704, 3: 691}
LEG_COL_X = [926, 1556, 2267, 2970, 3600]
LEG_ROW_Y = [4051, 4144]
LEG_FRAME = (905, 4007, 4132, 4213)

SERIF = "DejaVu Serif"
MONO = "DejaVu Sans Mono"

# the browser caps the window below the canvas size: stretch the canvas onto the viewport
FIT_JS = """
var gd = document.getElementById('{plot_id}');
document.documentElement.style.margin = '0';
document.body.style.margin = '0';
document.documentElement.style.overflow = 'hidden';
document.body.style.overflow = 'hidden';
var sx = window.innerWidth / %d, sy = window.innerHeight / %d;
if (Math.abs(sx - 1) > 0.001 || Math.abs(sy - 1) > 0.001) {
  gd.style.transformOrigin = '0 0';
  gd.style.transform = 'scale(' + sx + ',' + sy + ')';
}
""" % (W, H)


def px(x):
    return x / W


def py(y):
    return 1 - y / H


def rgba(hex_color, a):
    h = hex_color.lstrip("#")
    r, g, b = int(h[0:2], 16), int(h[2:4], 16), int(h[4:6], 16)
    return f"rgba({r},{g},{b},{a})"


def title_html(name):
    gap = "<span style='font-size:26px'>\u00a0</span>"
    return (gap + "\u2212" + gap).join(name.split("-"))


def rounded_rect(x0, y0, x1, y1, r):
    return (f"M {px(x0 + r)},{py(y0)} L {px(x1 - r)},{py(y0)} "
            f"Q {px(x1)},{py(y0)} {px(x1)},{py(y0 + r)} L {px(x1)},{py(y1 - r)} "
            f"Q {px(x1)},{py(y1)} {px(x1 - r)},{py(y1)} L {px(x0 + r)},{py(y1)} "
            f"Q {px(x0)},{py(y1)} {px(x0)},{py(y1 - r)} L {px(x0)},{py(y0 + r)} "
            f"Q {px(x0)},{py(y0)} {px(x0 + r)},{py(y0)} Z")


bad = []
fig = go.Figure()
annotations = []
layout = {}
legend_of = {}
for ci, col in enumerate(LEGEND_COLS):
    for ri, m in enumerate(col):
        legend_of[m] = (ci, ri)

for i, (title, means, bands, yset, xset, row, col) in enumerate(PANELS):
    n = i + 1
    xa, ya = ("x", "y") if n == 1 else (f"x{n}", f"y{n}")
    xmax, xticks, xtext, offset = xset
    yrange, yticks, ytext, sd_default = yset
    xs = [f * xmax for f in FRAC]

    for m in METHODS:
        mean = means[m]
        sd = bands.get(m, sd_default)
        sd = sd if isinstance(sd, list) else [sd] * len(FRAC)
        if len(mean) != len(FRAC) or len(sd) != len(FRAC):
            bad.append((i, m, len(mean), len(sd)))
            continue
        lo = [v - s for v, s in zip(mean, sd)]
        hi = [v + s for v, s in zip(mean, sd)]
        c = COLORS[m]
        fig.add_trace(go.Scatter(
            x=xs + xs[::-1], y=hi + lo[::-1], xaxis=xa, yaxis=ya,
            mode="lines", fill="toself", fillcolor=rgba(c, 0.2),
            line=dict(color=rgba(c, 0.25), width=2), hoverinfo="skip",
            showlegend=False))
        lg = legend_of[m]
        k = lg[0] * 2 + lg[1] + 1
        lid = "legend" if k == 1 else f"legend{k}"
        fig.add_trace(go.Scatter(
            x=xs, y=mean, xaxis=xa, yaxis=ya, mode="lines", name="\u2002\u2009" + m,
            line=dict(color=c, width=6.5), showlegend=(n == 1), legend=lid))

    x0 = COL_LEFT[row][col]
    y0, y1 = ROW_Y[row]
    bottom_row = row in (1, 3)
    axis = dict(showline=True, linecolor="black", linewidth=3.3, mirror=True,
                ticks="outside", ticklen=14.6, tickwidth=3.3, tickcolor="black",
                showgrid=True, gridcolor="rgba(176,176,176,0.35)", gridwidth=3,
                zeroline=False, automargin=False,
                tickfont=dict(family=SERIF, size=46, color="black"))
    layout[f"xaxis{n}"] = dict(axis, domain=[px(x0), px(x0 + PANEL_W)], anchor=ya,
                               range=[0, xmax], tickvals=xticks, ticktext=xtext,
                               showticklabels=bottom_row, ticklabelstandoff=14)
    layout[f"yaxis{n}"] = dict(axis, domain=[py(y1), py(y0)], anchor=xa,
                               range=yrange, tickvals=yticks, ticktext=ytext,
                               ticklabelstandoff=14)

    if title:
        annotations.append(dict(
            text=title_html(title), x=px(x0 + PANEL_W / 2), y=py(y0 - 8),
            xref="paper", yref="paper", xanchor="center", yanchor="bottom",
            showarrow=False, font=dict(family=MONO, size=70, color="black")))
    if col == 0:
        label = "Success rate" if row in (0, 2) else "Average trajectory length"
        annotations.append(dict(
            text=label, x=px(YLABEL_X[row]), y=py((y0 + y1) / 2), textangle=-90,
            xref="paper", yref="paper", xanchor="center", yanchor="middle",
            showarrow=False, font=dict(family=SERIF, size=62, color="black")))
    if bottom_row:
        annotations.append(dict(
            text="environment steps", x=px(x0 + PANEL_W / 2), y=py(y1 + 88),
            xref="paper", yref="paper", xanchor="center", yanchor="top",
            showarrow=False, font=dict(family=SERIF, size=62, color="black")))
        annotations.append(dict(
            text=offset, x=px(x0 + PANEL_W), y=py(y1 + 87),
            xref="paper", yref="paper", xanchor="right", yanchor="top",
            showarrow=False, font=dict(family=SERIF, size=46, color="black")))

if bad:
    raise ValueError(f"length mismatch: {bad}")

for ci, col in enumerate(LEGEND_COLS):
    for ri, m in enumerate(col):
        k = ci * 2 + ri + 1
        key = "legend" if k == 1 else f"legend{k}"
        layout[key] = dict(
            x=px(LEG_COL_X[ci] - 5), y=py(LEG_ROW_Y[ri]), xanchor="left", yanchor="middle",
            xref="paper", yref="paper", orientation="v", bgcolor="rgba(0,0,0,0)",
            borderwidth=0, itemwidth=133,
            font=dict(family=SERIF, size=62, color="black"))

fig.update_layout(
    width=W, height=H, margin=dict(l=0, r=0, t=0, b=0, autoexpand=False),
    paper_bgcolor="white", plot_bgcolor="white", hovermode=False,
    annotations=annotations,
    shapes=[dict(type="path", path=rounded_rect(*LEG_FRAME, 20), xref="paper",
                 yref="paper", line=dict(color="#d0d0d0", width=3.3),
                 fillcolor="white", layer="below")],
    **layout,
)

fig.write_html("out.html", post_script=FIT_JS, config={"displayModeBar": False})
